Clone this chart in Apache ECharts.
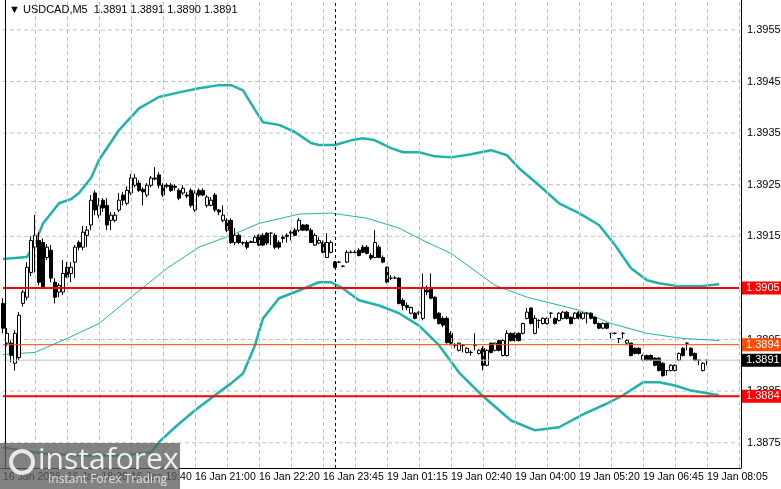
<!DOCTYPE html>
<html>
<head>
<meta charset="utf-8">
<script src="https://cdn.jsdelivr.net/npm/echarts@6/dist/echarts.min.js"></script>
<style>
html,body{margin:0;padding:0;background:#fff;}
#chart{width:781px;height:489px;}
</style>
</head>
<body>
<div id="chart"></div>
<script>
// USDCAD M5 candles: [open, close, low, high]
var candles = [
[1.39020,1.38972,1.38962,1.39030],[1.38943,1.38962,1.38937,1.38972],[1.38943,1.38919,1.38906,1.38948],[1.38904,1.38962,1.38890,1.38968],
[1.38915,1.38997,1.38910,1.39003],[1.39020,1.39042,1.39014,1.39046],[1.39032,1.39090,1.39026,1.39100],[1.39080,1.39142,1.39073,1.39150],
[1.39129,1.39152,1.39080,1.39191],[1.39142,1.39061,1.39055,1.39158],[1.39138,1.39051,1.39049,1.39146],[1.39109,1.39129,1.39104,1.39135],
[1.39123,1.39069,1.39061,1.39133],[1.39061,1.39032,1.39020,1.39069],[1.39042,1.39055,1.39032,1.39059],[1.39042,1.39078,1.39036,1.39104],
[1.39090,1.39071,1.39069,1.39100],[1.39078,1.39090,1.39061,1.39100],[1.39100,1.39129,1.39069,1.39133],[1.39138,1.39129,1.39123,1.39142],
[1.39129,1.39158,1.39123,1.39170],[1.39152,1.39162,1.39129,1.39170],[1.39172,1.39220,1.39162,1.39230],[1.39234,1.39201,1.39191,1.39239],
[1.39191,1.39210,1.39185,1.39224],[1.39220,1.39205,1.39197,1.39224],[1.39210,1.39172,1.39162,1.39224],[1.39181,1.39191,1.39162,1.39197],
[1.39181,1.39191,1.39177,1.39197],[1.39201,1.39220,1.39197,1.39234],[1.39230,1.39220,1.39210,1.39236],[1.39214,1.39239,1.39210,1.39247],
[1.39234,1.39263,1.39230,1.39271],[1.39249,1.39263,1.39245,1.39271],[1.39253,1.39239,1.39236,1.39259],[1.39241,1.39236,1.39210,1.39245],
[1.39230,1.39249,1.39226,1.39253],[1.39249,1.39263,1.39245,1.39267],[1.39263,1.39261,1.39259,1.39284],[1.39269,1.39249,1.39243,1.39274],
[1.39249,1.39230,1.39226,1.39253],[1.39249,1.39247,1.39243,1.39253],[1.39249,1.39239,1.39236,1.39253],[1.39247,1.39245,1.39239,1.39251],
[1.39239,1.39224,1.39220,1.39243],[1.39234,1.39243,1.39230,1.39249],[1.39230,1.39228,1.39224,1.39236],[1.39239,1.39210,1.39206,1.39243],
[1.39201,1.39234,1.39197,1.39239],[1.39239,1.39230,1.39226,1.39243],[1.39239,1.39230,1.39228,1.39243],[1.39210,1.39226,1.39206,1.39230],
[1.39210,1.39220,1.39208,1.39226],[1.39230,1.39201,1.39197,1.39234],[1.39201,1.39197,1.39191,1.39203],[1.39181,1.39191,1.39177,1.39210],
[1.39181,1.39162,1.39158,1.39185],[1.39181,1.39138,1.39135,1.39185],[1.39138,1.39152,1.39133,1.39166],[1.39152,1.39138,1.39135,1.39156],
[1.39138,1.39137,1.39133,1.39140],[1.39138,1.39129,1.39125,1.39142],[1.39138,1.39140,1.39137,1.39142],[1.39138,1.39148,1.39137,1.39152],
[1.39152,1.39133,1.39131,1.39154],[1.39152,1.39133,1.39131,1.39156],[1.39156,1.39137,1.39133,1.39158],[1.39156,1.39156,1.39133,1.39158],
[1.39152,1.39129,1.39125,1.39156],[1.39138,1.39129,1.39125,1.39142],[1.39148,1.39146,1.39137,1.39152],[1.39152,1.39150,1.39138,1.39156],
[1.39158,1.39156,1.39142,1.39162],[1.39162,1.39152,1.39150,1.39166],[1.39162,1.39181,1.39158,1.39185],[1.39172,1.39162,1.39160,1.39174],
[1.39172,1.39162,1.39160,1.39174],[1.39162,1.39138,1.39137,1.39166],[1.39133,1.39152,1.39131,1.39156],[1.39137,1.39142,1.39135,1.39148],
[1.39138,1.39119,1.39117,1.39142],[1.39109,1.39138,1.39108,1.39156],[1.39119,1.39138,1.39117,1.39142],[1.39100,1.39090,1.39088,1.39102],
[1.39100,1.39100,1.39098,1.39102],[1.39092,1.39092,1.39090,1.39094],[1.39100,1.39119,1.39098,1.39123],[1.39119,1.39119,1.39117,1.39123],
[1.39119,1.39119,1.39117,1.39123],[1.39123,1.39113,1.39111,1.39127],[1.39129,1.39119,1.39117,1.39133],[1.39129,1.39117,1.39115,1.39133],
[1.39113,1.39108,1.39104,1.39117],[1.39109,1.39138,1.39108,1.39162],[1.39129,1.39109,1.39108,1.39133],[1.39109,1.39100,1.39098,1.39113],
[1.39090,1.39061,1.39059,1.39092],[1.39069,1.39069,1.39065,1.39075],[1.39069,1.39069,1.39067,1.39073],[1.39069,1.39020,1.39018,1.39071],
[1.39026,1.39016,1.39007,1.39030],[1.39016,1.39012,1.39007,1.39022],[1.39001,1.39012,1.38999,1.39014],[1.39001,1.38991,1.38989,1.39003],
[1.39001,1.39003,1.38997,1.39005],[1.38991,1.39051,1.38987,1.39078],[1.39046,1.39042,1.39036,1.39055],[1.39051,1.39030,1.39028,1.39078],
[1.39032,1.38991,1.38989,1.39034],[1.39001,1.38981,1.38979,1.39003],[1.38991,1.38978,1.38974,1.38995],[1.38991,1.38944,1.38942,1.38995],
[1.38962,1.38943,1.38939,1.38966],[1.38939,1.38939,1.38933,1.38943],[1.38929,1.38943,1.38927,1.38944],[1.38939,1.38939,1.38925,1.38941],
[1.38925,1.38933,1.38923,1.38935],[1.38925,1.38925,1.38919,1.38929],[1.38939,1.38939,1.38929,1.38962],[1.38923,1.38929,1.38921,1.38931],
[1.38933,1.38900,1.38890,1.38937],[1.38900,1.38929,1.38898,1.38931],[1.38943,1.38925,1.38923,1.38944],[1.38929,1.38943,1.38927,1.38944],
[1.38948,1.38929,1.38927,1.38950],[1.38919,1.38948,1.38917,1.38950],[1.38919,1.38962,1.38917,1.38968],[1.38962,1.38948,1.38946,1.38964],
[1.38962,1.38948,1.38946,1.38964],[1.38962,1.38948,1.38946,1.38964],[1.38962,1.38981,1.38960,1.38983],[1.38991,1.39003,1.38989,1.39011],
[1.39011,1.38981,1.38979,1.39012],[1.38962,1.38991,1.38960,1.38997],[1.38987,1.38987,1.38972,1.38989],[1.38981,1.38991,1.38979,1.38993],
[1.38981,1.38991,1.38979,1.38993],[1.39001,1.39001,1.38991,1.39003],[1.38991,1.38981,1.38979,1.38993],[1.38987,1.39001,1.38985,1.39003],
[1.38991,1.39003,1.38989,1.39005],[1.39003,1.38991,1.38989,1.39005],[1.38993,1.38981,1.38979,1.38995],[1.38991,1.39001,1.38989,1.39003],
[1.39003,1.38991,1.38989,1.39005],[1.38991,1.39001,1.38989,1.39003],[1.39001,1.39001,1.38981,1.39003],[1.39001,1.38991,1.38989,1.39003],
[1.38993,1.38981,1.38979,1.38995],[1.38981,1.38972,1.38970,1.38983],[1.38972,1.38981,1.38970,1.38983],[1.38981,1.38972,1.38970,1.38983],
[1.38962,1.38962,1.38952,1.38962],[1.38962,1.38962,1.38960,1.38964],[1.38952,1.38952,1.38943,1.38952],[1.38962,1.38962,1.38952,1.38964],
[1.38943,1.38948,1.38941,1.38950],[1.38943,1.38919,1.38917,1.38944],[1.38933,1.38923,1.38921,1.38935],[1.38933,1.38923,1.38921,1.38935],
[1.38910,1.38919,1.38908,1.38921],[1.38919,1.38910,1.38908,1.38921],[1.38919,1.38910,1.38908,1.38921],[1.38914,1.38900,1.38898,1.38916],
[1.38914,1.38890,1.38888,1.38916],[1.38904,1.38880,1.38878,1.38906],[1.38890,1.38890,1.38880,1.38890],[1.38890,1.38900,1.38888,1.38902],
[1.38890,1.38900,1.38888,1.38902],[1.38910,1.38923,1.38908,1.38925],[1.38933,1.38919,1.38917,1.38935],[1.38943,1.38943,1.38929,1.38943],
[1.38933,1.38919,1.38917,1.38935],[1.38923,1.38910,1.38908,1.38925],[1.38910,1.38910,1.38900,1.38910],[1.38890,1.38904,1.38888,1.38906],
[1.38910,1.38910,1.38900,1.38910]
];

// Bollinger band readings: [bar index, price]
var bandUpper = [[0,1.39106],[6,1.39110],[8,1.39137],[10,1.39175],[14,1.39214],[17,1.39222],[19,1.39234],[22,1.39263],[24,1.39298],
[29,1.39356],[34,1.39398],[39,1.39420],[44,1.39429],[49,1.39437],[54,1.39443],[57,1.39443],[60,1.39433],[63,1.39395],[65,1.39371],
[69,1.39366],[73,1.39352],[77,1.39331],[79,1.39327],[83,1.39327],[87,1.39336],[90,1.39340],[93,1.39336],[97,1.39321],[100,1.39313],
[104,1.39313],[108,1.39305],[112,1.39303],[117,1.39309],[122,1.39317],[126,1.39307],[129,1.39282],[134,1.39249],[139,1.39214],
[144,1.39195],[149,1.39172],[153,1.39133],[157,1.39088],[161,1.39065],[164,1.39059],[169,1.39053],[174,1.39053],[179,1.39057]];
var bandMiddle = [[0,1.38921],[8,1.38925],[16,1.38952],[24,1.38981],[32,1.39032],[41,1.39088],[49,1.39129],[57,1.39152],[64,1.39175],
[74,1.39193],[82,1.39195],[91,1.39185],[99,1.39166],[105,1.39142],[112,1.39117],[123,1.39055],[131,1.39032],[144,1.39007],
[152,1.38981],[161,1.38962],[170,1.38952],[179,1.38948]];
var bandLower = [[0,1.38741],[10,1.38729],[20,1.38725],[30,1.38725],[37,1.38731],[39,1.38751],[43,1.38780],[48,1.38813],[53,1.38842],
[57,1.38865],[60,1.38884],[63,1.38939],[65,1.38991],[69,1.39030],[74,1.39045],[79,1.39061],[82,1.39061],[85,1.39049],[89,1.39026],
[94,1.39016],[99,1.39001],[104,1.38977],[109,1.38939],[114,1.38886],[120,1.38840],[127,1.38793],[133,1.38774],[139,1.38780],
[145,1.38805],[151,1.38826],[155,1.38842],[160,1.38867],[164,1.38867],[168,1.38861],[172,1.38851],[179,1.38842]];

var priceTicks = [1.3875,1.3885,1.3895,1.3905,1.3915,1.3925,1.3935,1.3945,1.3955];
var timeLabels = ["16 Jan 2026","16 Jan 18:20","16 Jan 19:40","16 Jan 21:00","16 Jan 22:20","16 Jan 23:45",
"19 Jan 01:15","19 Jan 02:40","19 Jan 04:00","19 Jan 05:20","19 Jan 06:45","19 Jan 08:05"];
var labelStep = 16, gridStep = 8, slotCount = 185, separatorBar = 83;

var levels = [
  {v:1.3891, color:'#c0c0c0', w:1, bg:'#000'},
  {v:1.3894, color:'#ff4a00', w:1},
  {v:1.3884, color:'#ff0000', w:2},
  {v:1.3905, color:'#ff0000', w:2}
];

var cats = [];
for (var i = 0; i < slotCount; i++) {
  cats.push(i % labelStep == 0 && timeLabels[i / labelStep] ? timeLabels[i / labelStep] : '');
}

var vLines = [];
for (var j = gridStep; j < slotCount; j += gridStep) {
  vLines.push({xAxis: j});
}

// horizontal line as a two-point series spanning the axis, label at its end
function hSeries(name, v, lineStyle, label, z) {
  return {
    name: name, type: 'line', data: [[0, v], [slotCount - 1, v]], showSymbol: false, silent: true, z: z,
    lineStyle: lineStyle,
    endLabel: label
  };
}

var series = [];
for (var k in priceTicks) {
  series.push(hSeries('g' + k, priceTicks[k], {color: '#c0c0c0', type: [4, 3], width: 1},
    {show: true, formatter: priceTicks[k].toFixed(4), color: '#000', fontSize: 11, fontFamily: 'Liberation Sans', distance: 8}, 1));
}
series.push({name: 'upper', type: 'line', data: bandUpper, showSymbol: false, z: 2,
  lineStyle: {color: '#20b2aa', width: 2.5},
  markLine: {symbol: 'none', silent: true, animation: false,
    lineStyle: {color: '#c0c0c0', type: [4, 3], width: 1}, label: {show: false}, data: vLines}});
series.push({name: 'middle', type: 'line', data: bandMiddle, showSymbol: false, z: 2,
  lineStyle: {color: '#20b2aa', width: 1},
  markLine: {symbol: 'none', silent: true, animation: false,
    lineStyle: {color: '#000', type: [3, 3], width: 1}, label: {show: false}, data: [{xAxis: separatorBar}]}});
series.push({name: 'lower', type: 'line', data: bandLower, showSymbol: false, z: 2,
  lineStyle: {color: '#20b2aa', width: 2.5}});
series.push({
  name: 'USDCAD', type: 'candlestick', data: candles, barWidth: 3, z: 4,
  itemStyle: {color: '#fff', color0: '#000', borderColor: '#000', borderColor0: '#000', borderWidth: 1}
});
for (var m in levels) {
  var lv = levels[m];
  series.push(hSeries('lv' + m, lv.v, {color: lv.color, width: lv.w, type: 'solid'},
    {show: true, formatter: lv.v.toFixed(4), color: '#fff', fontSize: 11, fontFamily: 'Liberation Sans',
      backgroundColor: lv.bg || lv.color, padding: [1, 4, 1, 4], distance: 3}, 5 + Number(m)));
}

var myChart = echarts.init(document.getElementById('chart'));
var option = {
  animation: false,
  backgroundColor: '#fff',
  grid: {left: 1, top: 0, width: 740, height: 468},
  xAxis: {
    type: 'category', data: cats, boundaryGap: true,
    axisLine: {lineStyle: {color: '#000', width: 1}},
    axisTick: {alignWithLabel: true, interval: function (i, v) { return v !== ''; }, length: 4, lineStyle:{color:'#000'}},
    axisLabel: {interval: function (i, v) { return v !== ''; }, align: 'left', color: '#000', fontSize: 10.5,
      fontFamily: 'Liberation Sans', margin: 4, hideOverlap: false},
    splitLine: {show: false}
  },
  yAxis: {
    type: 'value', min: 1.38701, max: 1.39608, position: 'right',
    axisLine: {show: false}, axisTick: {show: false}, axisLabel: {show: false}, splitLine: {show: false}
  },
  series: series,
  graphic: [
    {type: 'line', shape: {x1: 5.5, y1: 0, x2: 5.5, y2: 468}, style: {stroke: '#000', lineWidth: 1}, z: 10},
    {type: 'line', shape: {x1: 741.5, y1: 0, x2: 741.5, y2: 468}, style: {stroke: '#000', lineWidth: 1}, z: 10},
    {type: 'text', left: 9, top: 4, z: 10,
      style: {text: '\u25BC USDCAD,M5  1.3891 1.3891 1.3890 1.3891', fill: '#000', font: '11px "Liberation Sans"'}},
    {type: 'rect', shape: {x: 0, y: 443, width: 180, height: 46}, style: {fill: 'rgba(95,95,95,0.78)'}, z: 20},
    {type: 'circle', shape: {cx: 22, cy: 462, r: 11}, style: {fill: 'none', stroke: '#e8e8e8', lineWidth: 4}, z: 21},
    {type: 'text', left: 38, top: 445, z: 21,
      style: {text: 'instaforex', fill: '#f0f0f0', font: '30px "Open Sans"'}},
    {type: 'text', left: 48, top: 474, z: 21,
      style: {text: 'Instant Forex Trading', fill: '#e0e0e0', font: '12px "Open Sans"'}}
  ]
};
myChart.setOption(option);
</script>
</body>
</html>
